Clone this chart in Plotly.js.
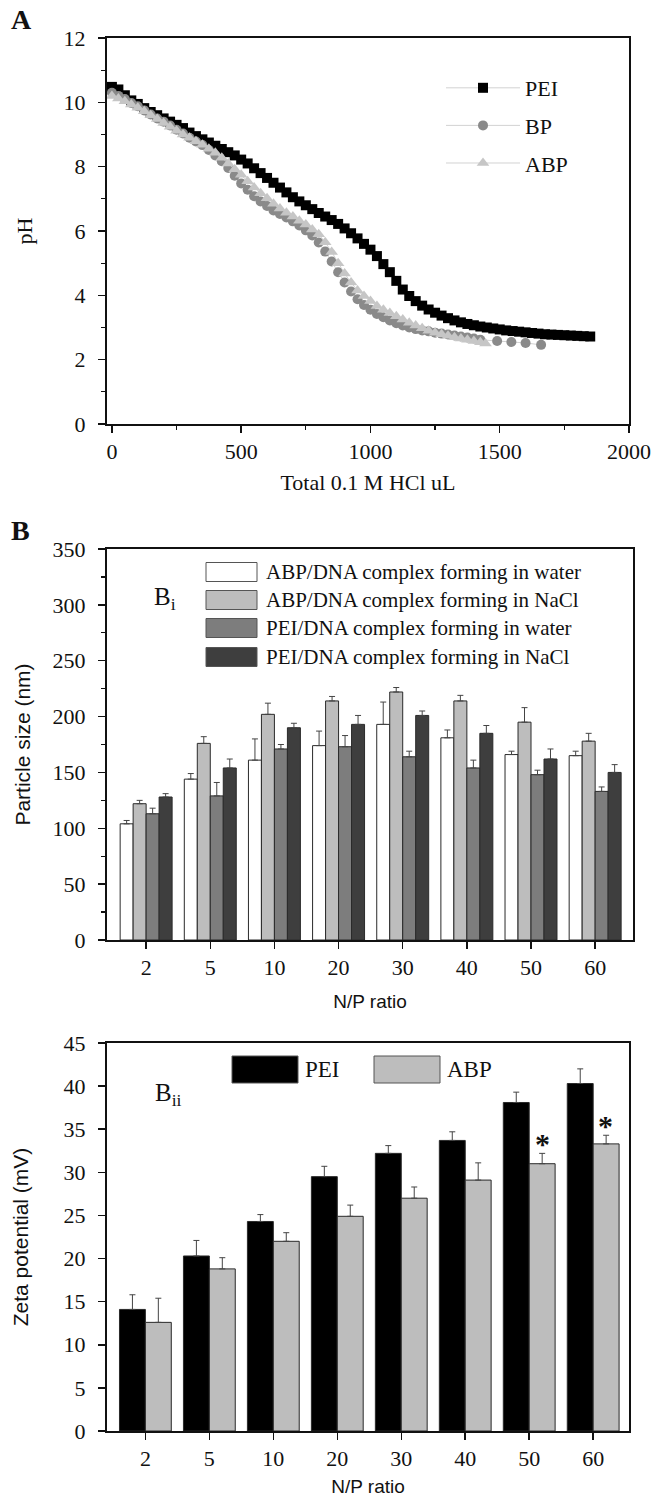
<!DOCTYPE html>
<html>
<head>
<meta charset="utf-8">
<script src="https://cdn.plot.ly/plotly-3.0.1.min.js"></script>
<style>html,body{margin:0;padding:0;background:#fff}#chart{width:665px;height:1497px}</style>
</head>
<body>
<div id="chart"></div>
<script>
// ---------- Panel A: titration (Total 0.1 M HCl uL vs pH) ----------
const peiX = [0,25,50,75,100,125,150,175,200,225,250,275,300,325,350,375,400,425,450,475,500,525,550,575,600,625,650,675,700,725,750,775,800,825,850,875,900,925,950,975,1000,1025,1050,1075,1100,1125,1150,1175,1200,1225,1250,1275,1300,1325,1350,1375,1400,1425,1450,1475,1500,1525,1550,1575,1600,1625,1650,1675,1700,1725,1750,1775,1800,1825,1850];
const peiY = [10.48,10.4,10.22,10.06,9.95,9.82,9.7,9.6,9.5,9.4,9.3,9.2,9.06,8.95,8.85,8.75,8.65,8.55,8.45,8.35,8.22,8.1,7.95,7.8,7.65,7.5,7.35,7.2,7.05,6.92,6.8,6.68,6.56,6.45,6.34,6.22,6.08,5.93,5.77,5.6,5.42,5.22,4.97,4.72,4.45,4.18,3.98,3.82,3.68,3.56,3.46,3.37,3.29,3.22,3.16,3.11,3.07,3.03,3.0,2.97,2.94,2.91,2.89,2.87,2.85,2.83,2.81,2.79,2.78,2.77,2.76,2.75,2.74,2.73,2.72];
const bpX = [0,25,50,75,100,125,150,175,200,225,250,275,300,325,350,375,400,425,450,475,500,525,550,575,600,625,650,675,700,725,750,775,800,825,850,875,900,925,950,975,1000,1025,1050,1075,1100,1125,1150,1175,1200,1225,1250,1275,1300,1325,1350,1375,1400,1425,1490,1545,1600,1660];
const bpY = [10.3,10.2,10.1,9.98,9.88,9.75,9.62,9.5,9.4,9.28,9.15,9.03,8.9,8.78,8.67,8.52,8.35,8.17,7.96,7.72,7.48,7.28,7.08,6.92,6.78,6.64,6.53,6.42,6.3,6.17,6.02,5.86,5.64,5.36,5.05,4.72,4.4,4.12,3.88,3.7,3.55,3.42,3.32,3.22,3.13,3.06,3.0,2.95,2.91,2.88,2.84,2.81,2.78,2.75,2.72,2.69,2.66,2.62,2.58,2.55,2.52,2.46];
const abpX = [0,25,50,75,100,125,150,175,200,225,250,275,300,325,350,375,400,425,450,475,500,525,550,575,600,625,650,675,700,725,750,775,800,825,850,875,900,925,950,975,1000,1025,1050,1075,1100,1125,1150,1175,1200,1225,1250,1275,1300,1325,1350,1375,1400,1425,1445];
const abpY = [10.2,10.12,10.03,9.93,9.83,9.72,9.6,9.48,9.36,9.24,9.12,9.0,8.9,8.79,8.68,8.56,8.43,8.28,8.1,7.92,7.75,7.55,7.35,7.17,7.02,6.85,6.7,6.57,6.45,6.32,6.2,6.05,5.9,5.65,5.35,5.0,4.68,4.4,4.15,3.98,3.82,3.67,3.55,3.45,3.35,3.25,3.15,3.06,2.98,2.9,2.84,2.79,2.74,2.7,2.66,2.62,2.58,2.54,2.5];
const titrationNames = ['PEI','BP','ABP'];

// ---------- Panel Bi: particle size ----------
const npRatio = ['2','5','10','20','30','40','50','60'];
const sizeNames = ['ABP/DNA complex forming in water','ABP/DNA complex forming in NaCl','PEI/DNA complex forming in water','PEI/DNA complex forming in NaCl'];
const abpWater = [104,144,161,174,193,181,166,165];
const abpWaterErr = [3,5,19,13,20,7,3,4];
const abpNaCl = [122,176,202,214,222,214,195,178];
const abpNaClErr = [3,6,10,4,4,5,13,7];
const peiWater = [113,129,171,173,164,154,148,133];
const peiWaterErr = [5,12,4,10,5,7,4,4];
const peiNaCl = [128,154,190,193,201,185,162,150];
const peiNaClErr = [3,8,4,8,4,7,9,7];

// ---------- Panel Bii: zeta potential ----------
const zetaNames = ['PEI','ABP'];
const zetaPEI = [14.1,20.3,24.3,29.5,32.2,33.7,38.1,40.3];
const zetaPEIErr = [1.7,1.8,0.8,1.2,0.9,1.0,1.2,1.7];
const zetaABP = [12.6,18.8,22.0,24.9,27.0,29.1,31.0,33.3];
const zetaABPErr = [2.8,1.3,1.0,1.3,1.3,2.0,1.2,1.0];
const zetaSig = ['','','','','','','*','*'];
const zeroErr = [0,0,0,0,0,0,0,0];

// ---------- layout helpers ----------
const W = 665, H = 1497;
const px = v => v / W;
const py = v => 1 - v / H;
const SERIF = 'Liberation Serif, Times New Roman, serif';
const SANS = 'Liberation Sans, Arial, sans-serif';

const tickFont = {family: SERIF, size: 22, color: '#111'};
function axisBase(extra) {
  return Object.assign({
    showline: true, mirror: true, linecolor: '#111', linewidth: 2,
    ticks: 'outside', ticklen: 7, tickwidth: 1.5, tickcolor: '#111',
    showgrid: false, zeroline: false, tickfont: tickFont, fixedrange: true
  }, extra);
}

const traces = [];
// Panel A
const aColors = ['#000000', '#8a8a8a', '#c6c6c6'];
const aSymbols = ['square', 'circle', 'triangle-up'];
const aSizes = [10, 10, 11];
const aX = [peiX, bpX, abpX], aY = [peiY, bpY, abpY];
for (let i = 0; i < 3; i++) {
  traces.push({
    type: 'scatter', mode: 'lines+markers', name: titrationNames[i],
    x: aX[i], y: aY[i], xaxis: 'x', yaxis: 'y',
    legendgroup: 'g' + i,
    line: {color: 'rgba(205,205,205,0.9)', width: 1},
    marker: {symbol: aSymbols[i], size: aSizes[i], color: aColors[i], line: {width: 0}}
  });
}
// Panel Bi
const sizeVals = [abpWater, abpNaCl, peiWater, peiNaCl];
const sizeErrs = [abpWaterErr, abpNaClErr, peiWaterErr, peiNaClErr];
const sizeColors = ['#ffffff', '#bdbdbd', '#7d7d7d', '#3e3e3e'];
for (let i = 0; i < 4; i++) {
  traces.push({
    type: 'bar', name: sizeNames[i], x: npRatio, y: sizeVals[i],
    xaxis: 'x2', yaxis: 'y2', showlegend: false,
    marker: {color: sizeColors[i], line: {color: '#2a2a2a', width: 1}},
    error_y: {type: 'data', symmetric: false, array: sizeErrs[i], arrayminus: zeroErr, color: '#444', thickness: 1, width: 3}
  });
}
// Panel Bii
const zetaVals = [zetaPEI, zetaABP];
const zetaErrs = [zetaPEIErr, zetaABPErr];
const zetaColors = ['#000000', '#bdbdbd'];
for (let i = 0; i < 2; i++) {
  traces.push({
    type: 'bar', name: zetaNames[i], x: npRatio, y: zetaVals[i],
    xaxis: 'x3', yaxis: 'y3', showlegend: false,
    marker: {color: zetaColors[i], line: {color: '#2a2a2a', width: 1}},
    error_y: {type: 'data', symmetric: false, array: zetaErrs[i], arrayminus: zeroErr, color: '#444', thickness: 1, width: 3}
  });
}

const shapes = [];
const annotations = [];
// panel letters
annotations.push({xref: 'paper', yref: 'paper', x: px(9), y: py(20), xanchor: 'left', yanchor: 'middle', showarrow: false,
  text: '<b>A</b>', font: {family: SERIF, size: 28, color: '#111'}});
annotations.push({xref: 'paper', yref: 'paper', x: px(9), y: py(530), xanchor: 'left', yanchor: 'middle', showarrow: false,
  text: '<b>B</b>', font: {family: SERIF, size: 28, color: '#111'}});
annotations.push({xref: 'paper', yref: 'paper', x: px(152), y: py(598), xanchor: 'left', yanchor: 'middle', showarrow: false,
  text: 'B<sub>i</sub>', font: {family: SERIF, size: 25, color: '#111'}});
annotations.push({xref: 'paper', yref: 'paper', x: px(153), y: py(1094), xanchor: 'left', yanchor: 'middle', showarrow: false,
  text: 'B<sub>ii</sub>', font: {family: SERIF, size: 25, color: '#111'}});

// custom legend Bi
const biRows = [572, 600, 628, 657];
for (let i = 0; i < 4; i++) {
  shapes.push({type: 'rect', xref: 'paper', yref: 'paper', x0: px(206), x1: px(257), y0: py(biRows[i] - 9.5), y1: py(biRows[i] + 9.5),
    fillcolor: sizeColors[i], line: {color: '#555', width: 1}});
  annotations.push({xref: 'paper', yref: 'paper', x: px(264), y: py(biRows[i]), xanchor: 'left', yanchor: 'middle', showarrow: false,
    text: sizeNames[i], font: {family: SERIF, size: 21, color: '#111'}});
}
// custom legend Bii
const biiBoxes = [[232, 298], [374, 440]];
for (let i = 0; i < 2; i++) {
  shapes.push({type: 'rect', xref: 'paper', yref: 'paper', x0: px(biiBoxes[i][0]), x1: px(biiBoxes[i][1]), y0: py(1083), y1: py(1056),
    fillcolor: zetaColors[i], line: {color: '#555', width: 1}});
  annotations.push({xref: 'paper', yref: 'paper', x: px(biiBoxes[i][1] + 5), y: py(1069), xanchor: 'left', yanchor: 'middle', showarrow: false,
    text: zetaNames[i], font: {family: SERIF, size: 23, color: '#111'}});
}
// significance stars
for (let i = 0; i < npRatio.length; i++) {
  if (!zetaSig[i]) continue;
  annotations.push({xref: 'x3', yref: 'y3', x: i + 0.2, y: zetaABP[i] + zetaABPErr[i], xanchor: 'center', yanchor: 'bottom', yshift: -9,
    showarrow: false, text: '<b>' + zetaSig[i] + '</b>', font: {family: SERIF, size: 30, color: '#111'}});
}

const layout = {
  width: W, height: H,
  margin: {l: 0, r: 0, t: 0, b: 0},
  paper_bgcolor: '#fff', plot_bgcolor: '#fff',
  showlegend: true,
  barmode: 'group', bargap: 0.19, bargroupgap: 0,
  font: {family: SERIF, color: '#111'},
  legend: {x: px(441), y: py(67), xanchor: 'left', yanchor: 'top', bgcolor: 'rgba(0,0,0,0)',
    font: {family: SERIF, size: 22, color: '#111'}, itemwidth: 74, traceorder: 'grouped', tracegroupgap: 6},
  xaxis: axisBase({domain: [px(107), px(629)], anchor: 'y', range: [-19, 2000], dtick: 500, tick0: 0,
    minor: {ticks: 'outside', ticklen: 4, tickwidth: 1.2, tickcolor: '#111', dtick: 250},
    title: {text: 'Total 0.1 M HCl uL', font: {family: SERIF, size: 22, color: '#111'}, standoff: 11}}),
  yaxis: axisBase({domain: [py(424), py(38)], anchor: 'x', range: [0, 12], dtick: 2, ticklabelstandoff: 8,
    minor: {ticks: 'outside', ticklen: 4, tickwidth: 1.2, tickcolor: '#111', dtick: 1},
    title: {text: 'pH', font: {family: SERIF, size: 22, color: '#111'}, standoff: 25}}),
  xaxis2: axisBase({domain: [px(107), px(633)], anchor: 'y2', type: 'category', range: [-0.61, 7.59],
    title: {text: 'N/P ratio', font: {family: SANS, size: 19, color: '#111'}, standoff: 15}}),
  yaxis2: axisBase({domain: [py(940), py(549)], anchor: 'x2', range: [0, 350], dtick: 50, ticklabelstandoff: 8,
    minor: {ticks: 'outside', ticklen: 4, tickwidth: 1.2, tickcolor: '#111', dtick: 25},
    title: {text: 'Particle size (nm)', font: {family: SANS, size: 21, color: '#111'}, standoff: 16}}),
  xaxis3: axisBase({domain: [px(107), px(629)], anchor: 'y3', type: 'category', range: [-0.6, 7.56],
    title: {text: 'N/P ratio', font: {family: SANS, size: 19, color: '#111'}, standoff: 16}}),
  yaxis3: axisBase({domain: [py(1431), py(1043)], anchor: 'x3', range: [0, 45], dtick: 5, ticklabelstandoff: 8,
    title: {text: 'Zeta potential (mV)', font: {family: SANS, size: 21, color: '#111'}, standoff: 29}}),
  shapes: shapes,
  annotations: annotations
};

Plotly.newPlot('chart', traces, layout, {staticPlot: true, displayModeBar: false});
</script>
</body>
</html>
